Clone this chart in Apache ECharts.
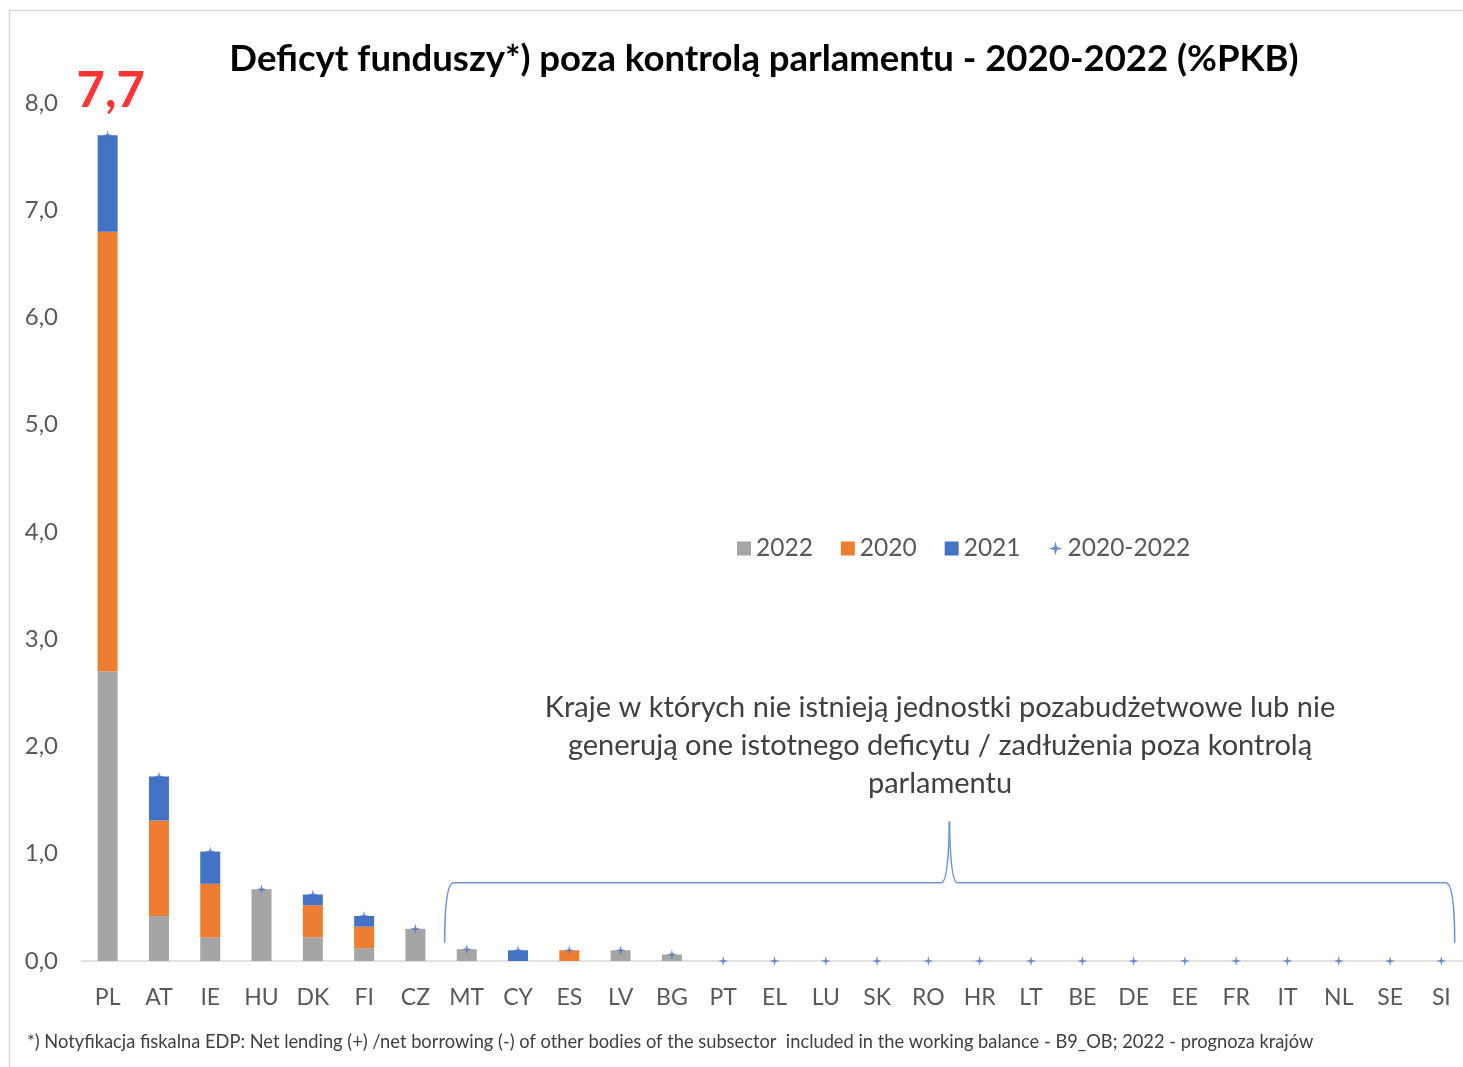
<!DOCTYPE html>
<html><head><meta charset="utf-8">
<script src="https://cdn.jsdelivr.net/npm/echarts@6/dist/echarts.min.js"></script>
<style>html,body{margin:0;padding:0;background:#fff}#c{width:1463px;height:1067px}</style>
</head><body><div id="c"></div>
<script>
// ---- data ----
const categories = ['PL','AT','IE','HU','DK','FI','CZ','MT','CY','ES','LV','BG','PT','EL','LU','SK','RO','HR','LT','BE','DE','EE','FR','IT','NL','SE','SI'];
const v2022  = [2.70,0.42,0.22,0.67,0.22,0.12,0.30,0.11,0,0,0.10,0.06,0,0,0,0,0,0,0,0,0,0,0,0,0,0,0];
const v2020  = [4.10,0.89,0.50,0,0.30,0.20,0,0,0,0.10,0,0,0,0,0,0,0,0,0,0,0,0,0,0,0,0,0];
const v2021  = [0.90,0.41,0.30,0,0.10,0.10,0,0,0.10,0,0,0,0,0,0,0,0,0,0,0,0,0,0,0,0,0,0];
const vTotal = [7.70,1.72,1.02,0.67,0.62,0.42,0.30,0.11,0.10,0.10,0.10,0.06,0,0,0,0,0,0,0,0,0,0,0,0,0,0,0];
const seriesNames = ['2022','2020','2021','2020-2022'];
const titleText = 'Deficyt funduszy*) poza kontrolą parlamentu - 2020-2022 (%PKB)';
const noteText = 'Kraje w których nie istnieją jednostki pozabudżetwowe lub nie\ngenerują one istotnego deficytu / zadłużenia poza kontrolą\nparlamentu';
const footText = '*) Notyfikacja fiskalna EDP: Net lending (+) /net borrowing (-) of other bodies of the subsector  included in the working balance - B9_OB; 2022 - prognoza krajów';
const yMin = 0, yMax = 8, yStep = 1;

// ---- chart ----
const FONT = 'Lato, "Noto Sans", sans-serif';
const GRAY = '#a5a5a5', ORANGE = '#ed7d31', BLUE = '#4472c4';
const STAR = 'path://M5,0 L6,4 L10,5 L6,6 L5,10 L4,6 L0,5 L4,4 Z';
const chart = echarts.init(document.getElementById('c'), null, {renderer: 'canvas'});
const nz = a => a.map(v => v === 0 ? null : v);
chart.setOption({
  animation: false,
  backgroundColor: '#fff',
  textStyle: {fontFamily: FONT},
  title: {
    text: titleText, left: 759, top: 36, textAlign: 'center',
    textStyle: {fontFamily: FONT, fontSize: 36.5, fontWeight: 'bold', color: '#000'}
  },
  legend: {
    data: [
      {name: seriesNames[0], icon: 'rect'},
      {name: seriesNames[1], icon: 'rect'},
      {name: seriesNames[2], icon: 'rect'},
      {name: seriesNames[3], icon: STAR}
    ],
    left: 732, top: 531, itemWidth: 14, itemHeight: 14, itemGap: 28,
    textStyle: {fontFamily: FONT, fontSize: 24.5, color: '#595959'}
  },
  grid: {left: 82, top: 103, width: 1385, bottom: 106, containLabel: false, outerBoundsMode: 'none'},
  xAxis: {
    type: 'category', data: categories,
    axisLine: {lineStyle: {color: '#d9d9d9', width: 1.5}},
    axisTick: {show: false},
    axisLabel: {fontFamily: FONT, fontSize: 23, color: '#595959', margin: 25, interval: 0}
  },
  yAxis: {
    type: 'value', min: yMin, max: yMax, interval: yStep,
    axisLine: {show: false}, axisTick: {show: false}, splitLine: {show: false},
    axisLabel: {fontFamily: FONT, fontSize: 24, color: '#595959', margin: 24,
      formatter: v => v.toFixed(1).replace('.', ',')}
  },
  series: [
    {name: seriesNames[0], type: 'bar', stack: 's', data: nz(v2022), barWidth: 20, itemStyle: {color: GRAY}},
    {name: seriesNames[1], type: 'bar', stack: 's', data: nz(v2020), barWidth: 20, itemStyle: {color: ORANGE}},
    {name: seriesNames[2], type: 'bar', stack: 's', data: nz(v2021), barWidth: 20, itemStyle: {color: BLUE}},
    {name: seriesNames[3], type: 'scatter', z: 5, symbol: STAR, symbolSize: 10,
      itemStyle: {color: BLUE},
      data: vTotal.map((v, i) => i === 0 ? {value: v, label: {
        show: true, position: 'top', distance: 14, offset: [3, 0],
        formatter: p => p.value.toFixed(1).replace('.', ','),
        fontFamily: FONT, fontSize: 49, fontWeight: 'bold', color: '#ff0000'}} : v)
    }
  ]
});

// ---- annotations (brace & note) tied to the axes ----
function xAt(f) {
  const a = chart.convertToPixel({xAxisIndex: 0}, 0);
  const b = chart.convertToPixel({xAxisIndex: 0}, 1);
  return a + (b - a) * f;
}
function yAt(v) { return chart.convertToPixel({yAxisIndex: 0}, v); }
const xL = xAt(6.57), xR = xAt(26.26), xP = xAt(16.41);
const yE = yAt(0.17), yB = yAt(0.73), yP = yAt(1.30);
const braceStyle = {fill: 'none', stroke: '#6f93d8', lineWidth: 1.6};
const bz = (x1, y1, cx, cy, x2, y2) => ({type: 'bezierCurve', silent: true,
  shape: {x1, y1, x2, y2, cpx1: cx, cpy1: cy}, style: braceStyle});
const ln = (x1, y1, x2, y2) => ({type: 'line', silent: true, shape: {x1, y1, x2, y2}, style: braceStyle});
chart.setOption({
  graphic: [
    {type: 'rect', shape: {x: 9.5, y: 10.5, width: 1470, height: 1070}, silent: true, z: -1,
      style: {fill: 'none', stroke: '#d9d9d9', lineWidth: 1.5}},
    bz(xL, yE, xL, yB, xL + 9, yB),
    ln(xL + 9, yB, xP - 8, yB),
    bz(xP - 8, yB, xP - 1, yB, xP, yP),
    bz(xP, yP, xP + 1, yB, xP + 8, yB),
    ln(xP + 8, yB, xR - 9, yB),
    bz(xR - 9, yB, xR, yB, xR, yE),
    {type: 'text', x: 940, y: 689, silent: true,
      style: {text: noteText, textAlign: 'center', fill: '#404040', font: '29px ' + FONT, lineHeight: 38}},
    {type: 'text', x: 27, y: 1033, silent: true,
      style: {text: footText, fill: '#404040', font: '18.3px ' + FONT}}
  ]
});
</script></body></html>
